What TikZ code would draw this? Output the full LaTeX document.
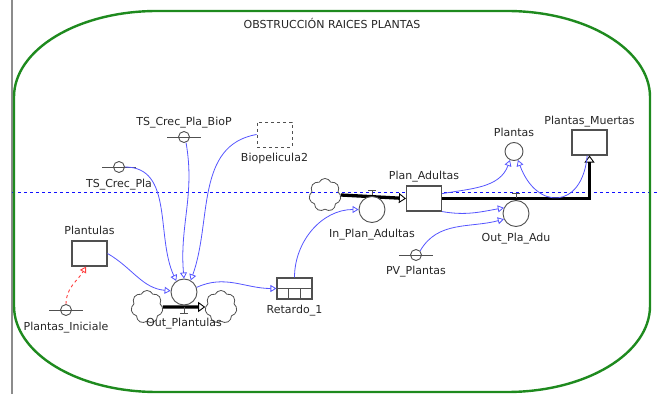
\documentclass[tikz,border=0pt]{standalone}
\usepackage{fontspec}
\setsansfont{DejaVu Sans}
\usetikzlibrary{shapes.symbols, arrows.meta, positioning, calc}
\definecolor{colorBorde}{HTML}{1E8A1E}
\definecolor{colorConector}{HTML}{5555FF}
\definecolor{colorGuia}{HTML}{1010FF}
\definecolor{colorInicial}{HTML}{FF4040}
\definecolor{colorLinea}{HTML}{505050}

\begin{document}
\begin{tikzpicture}[x=1pt, y=1pt,
        lbl/.style={inner sep=0pt, text height=8pt, text depth=2.5pt, text=black!85,
            font=\sffamily\fontsize{11}{12}\selectfont},
        stock/.style={draw=colorLinea, fill=white, line width=1.1pt, minimum width=35pt,
            minimum height=25pt, inner sep=0pt},
        conv/.style={circle, draw=colorLinea, line width=0.9pt, minimum size=11pt, inner sep=0pt},
        valve/.style={circle, draw=colorLinea, fill=white, line width=0.9pt, minimum size=26pt, inner sep=0pt},
        nube/.style={cloud, cloud puffs=7, cloud puff arc=130, aspect=1, draw=colorLinea, line width=0.8pt,
            minimum width=32pt, minimum height=33pt, inner sep=0pt},
        flujo/.style={line width=3.3pt, -{Triangle[open, length=7pt, width=10pt, line width=0.9pt]}},
        rel/.style={colorConector, line width=0.8pt, -{Triangle[open, length=6pt, width=7pt]}},
        ini/.style={colorInicial, dashed, line width=0.9pt, -{Triangle[open, length=6pt, width=7pt]}},
        marca/.style={colorLinea, line width=0.9pt}
    ]
    \useasboundingbox (0,0) rectangle (659,394);

    % marco y guia
    \draw[gray!90, line width=1.5pt] (12,0) -- (12,394);
    \draw[colorGuia, dashed, line width=0.8pt] (12,202) -- (659,202);
    \draw[colorBorde, line width=2.4pt] (14,297) arc[start angle=180, end angle=90, x radius=143, y radius=86]
        -- (507,383) arc[start angle=90, end angle=0, x radius=143, y radius=86]
        -- (650,88) arc[start angle=0, end angle=-90, x radius=143, y radius=86]
        -- (157,2) arc[start angle=270, end angle=180, x radius=143, y radius=86] -- cycle;
    \node[lbl] (titulo) at (332,368) {OBSTRUCCIÓN RAICES PLANTAS};

    % niveles
    \node[stock] (plt) at (89.5,140.5) {};
    \node[stock] (pa) at (424,195.5) {};
    \node[stock] (pm) at (589.5,251.5) {};
    \node[stock, fill=none, dashed, line width=0.9pt] (bio) at (274.5,259.5) {};
    \node[stock, minimum height=21pt] (ret) at (294.5,105.5) {};
    \draw[colorLinea, line width=1.1pt] (ret.west) -- (ret.east);
    \foreach \f in {1/3,2/3}
        \draw[colorLinea, line width=1.1pt] ($(ret.west)!\f!(ret.east)$) -- ($(ret.south west)!\f!(ret.south east)$);

    % nubes y flujos
    \node[nube] (cl1) at (147,87) {};
    \node[nube] (cl2) at (221,87) {};
    \node[nube] (cl3) at (325,199) {};
    \draw[flujo] (cl1.east) -- (cl2.west);
    \draw[flujo] (cl3.east) -- (pa.west);
    \draw[flujo] (pa.east) -| (pm.south);
    \node[valve] (outp) at (184,102) {};
    \node[valve] (inpa) at (372,184.5) {};
    \node[valve] (opa) at (516,180.5) {};
    \draw[marca] (outp |- cl1) -- ++(0,-6) ++(-4,0) -- ++(8,0);
    \draw[marca] (inpa |- cl3) -- ++(0,5) ++(-4,0) -- ++(8,0);
    \draw[marca] (opa |- pa) -- ++(0,5) ++(-4,0) -- ++(8,0);

    % convertidores
    \node[conv] (tsb) at (184,257) {};
    \node[conv] (tsc) at (119,227) {};
    \node[conv] (pini) at (66,84) {};
    \node[conv] (pv) at (416,139) {};
    \foreach \n in {tsb,tsc,pini,pv}
        \draw[colorLinea, line width=0.9pt] ([xshift=-17pt]\n.center) -- ([xshift=17pt]\n.center);
    \node[conv, minimum size=18pt] (pl) at (514,242.5) {};

    % etiquetas
    \node[lbl, above=3pt of tsb] (tsbL) {TS\_Crec\_Pla\_BioP};
    \node[lbl, below=6pt of tsc] (tscL) {TS\_Crec\_Pla};
    \node[lbl, below=6pt of bio] (bioL) {Biopelicula2};
    \node[lbl, above=3pt of plt] (pltL) {Plantulas};
    \node[lbl, below=6pt of pini] (piniL) {Plantas\_Iniciale};
    \node[lbl, below=13pt of outp] (outpL) {Out\_Plantulas};
    \node[lbl, below=6pt of ret] (retL) {Retardo\_1};
    \node[lbl, below=6pt of inpa] (inpaL) {In\_Plan\_Adultas};
    \node[lbl, above=3pt of pa] (paL) {Plan\_Adultas};
    \node[lbl, below=6pt of opa] (opaL) {Out\_Pla\_Adu};
    \node[lbl, above=2pt of pm] (pmL) {Plantas\_Muertas};
    \node[lbl, above=3pt of pl] (plL) {Plantas};
    \node[lbl, below=5pt of pv] (pvL) {PV\_Plantas};

    % conectores
    \draw[rel] (tsc.east) to[out=0, in=115] (outp.125);
    \draw[rel] (tsb.-70) to[out=-80, in=95] (outp.90);
    \draw[rel] (bio.west) to[out=190, in=70] (outp.60);
    \draw[rel] (plt.east) to[out=-30, in=175] (outp.175);
    \draw[rel] (outp.20) to[out=25, in=180] (ret.west);
    \draw[rel] (ret.north) to[out=90, in=180] (inpa.west);
    \draw[rel] (pa.15) to[out=10, in=250] (pl.245);
    \draw[rel] (pm.-100) to[out=-95, in=-70, looseness=2] (pl.295);
    \draw[rel] (pa.south east) to[out=-10, in=190] (opa.155);
    \draw[rel] (pv.45) to[out=60, in=195] (opa.205);
    \draw[ini] (pini.north) to[out=90, in=-120] (plt.-105);
\end{tikzpicture}
\end{document}
